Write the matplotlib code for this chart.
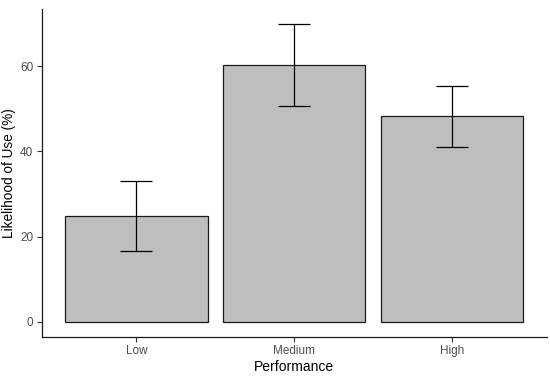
import matplotlib
matplotlib.use("Agg")
import matplotlib.pyplot as plt

categories = ["Low", "Medium", "High"]
means = [24.9, 60.2, 48.2]
err_low = [16.7, 50.6, 40.9]
err_high = [33.0, 69.8, 55.4]

plt.rcParams["font.family"] = ["Liberation Sans", "DejaVu Sans"]

fig = plt.figure(figsize=(5.5, 3.77), dpi=100)
ax = fig.add_axes([0.0758, 0.107, 0.919, 0.868])

x = list(range(1, len(categories) + 1))
ax.bar(x, means, width=0.9, color="#BEBEBE", edgecolor="#1a1a1a", linewidth=0.9)
yerr = [[m - lo for m, lo in zip(means, err_low)],
        [hi - m for m, hi in zip(means, err_high)]]
ax.errorbar(x, means, yerr=yerr, fmt="none", ecolor="black",
            elinewidth=0.9, capsize=11.5, capthick=0.9)

ax.set_xlim(0.4, 3.6)
ax.set_ylim(-3.49, 73.3)
ax.set_xticks(x)
ax.set_xticklabels(categories)
ax.set_yticks([0, 20, 40, 60])

for s in ["top", "right"]:
    ax.spines[s].set_visible(False)
for s in ["left", "bottom"]:
    ax.spines[s].set_color("#1a1a1a")
    ax.spines[s].set_linewidth(0.9)

ax.tick_params(axis="both", colors="#333333", length=3.5, width=0.8,
               labelsize=8.5, labelcolor="#4D4D4D", pad=2.5)

ax.set_xlabel("Performance", fontsize=10, color="black", labelpad=2)
ax.set_ylabel("Likelihood of Use (%)", fontsize=9.8, color="black", labelpad=3)

fig.savefig("out.png", dpi=100, facecolor="white")
